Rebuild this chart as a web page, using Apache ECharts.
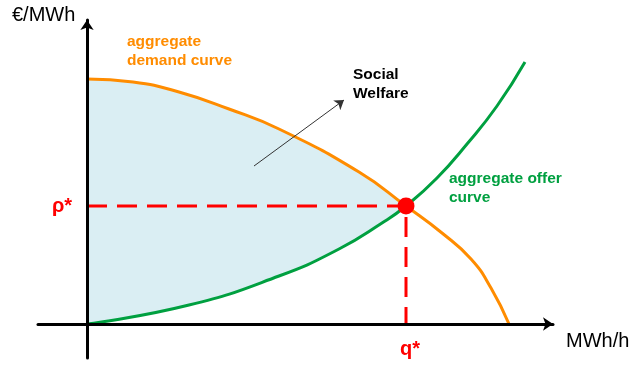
<!DOCTYPE html>
<html><head><meta charset="utf-8">
<script src="https://cdn.jsdelivr.net/npm/echarts@6/dist/echarts.min.js"></script>
<style>html,body{margin:0;padding:0;background:#fff}#c{width:632px;height:378px}</style>
</head><body><div id="c"></div>
<script>
// Data (x: quantity, y: price)
var demandCurve = [[0,245],[46,242],[92,232],[142,215],[192,195],[272,152],[319,118],[355,91],[384,65],[404,36],[422,0]];
var offerCurve = [[0,0],[102,19],[192,48],[252,75],[295,101],[319,118],[350,146],[380,180],[410,218],[438,262]];
var equilibrium = [319,118];
var qStar = equilibrium[0], pStar = equilibrium[1];
var welfareArrow = [[167,158],[257,224]];
var labels = {yAxis:'€/MWh', xAxis:'MWh/h', demand:'aggregate\ndemand curve', offer:'aggregate offer\ncurve', welfare:'Social\nWelfare', p:'ρ*', q:'q*'};

var ORANGE = '#FF8C00', GREEN = '#00A040', RED = '#FF0000', FILL = '#DAEEF3';
var demandFill = demandCurve.filter(function(p){return p[0] <= qStar;});
var offerFill = offerCurve.filter(function(p){return p[0] <= qStar;});

var chart = echarts.init(document.getElementById('c'));
var axisCommon = {
  type:'value', z:5,
  axisLine:{show:true, onZero:true, symbol:['none','arrow'], symbolSize:[10,10], lineStyle:{color:'#000', width:3}},
  axisTick:{show:false}, axisLabel:{show:false}, splitLine:{show:false}
};
var boldText = function(txt, x, y, color, size){
  return {type:'text', left:x, top:y, z:20, style:{text:txt, fill:color, font:'bold '+size+'px "Liberation Sans", Arial, sans-serif', lineHeight:19}};
};
var SM = 0.5;
chart.setOption({
  animation:false,
  grid:{left:38, right:79, top:20, bottom:20},
  xAxis: Object.assign({min:-49, max:466}, axisCommon),
  yAxis: Object.assign({min:-34, max:304}, axisCommon),
  series:[
    {type:'line', data:demandFill, smooth:SM, showSymbol:false, z:1, lineStyle:{width:0}, areaStyle:{color:FILL, opacity:1}},
    {type:'line', data:offerFill, smooth:SM, showSymbol:false, z:1, lineStyle:{width:0}, areaStyle:{color:'#fff', opacity:1}},
    {type:'line', data:demandCurve, smooth:SM, showSymbol:false, z:3, lineStyle:{color:ORANGE, width:3}},
    {type:'line', data:offerCurve, smooth:SM, showSymbol:false, z:3, lineStyle:{color:GREEN, width:3}},
    {type:'line', data:[[0,pStar],[qStar,pStar],[qStar,0]], showSymbol:false, z:4, lineStyle:{color:RED, width:3, type:[20,10]}},
    {type:'lines', coordinateSystem:'cartesian2d', z:6, symbol:['none','arrow'], symbolSize:9,
      lineStyle:{color:'#333', width:1, opacity:1}, data:[{coords:welfareArrow}]},
    {type:'scatter', data:[equilibrium], symbolSize:17, z:8, itemStyle:{color:RED, opacity:1}}
  ],
  graphic:[
    {type:'text', left:12, top:5, z:20, style:{text:labels.yAxis, fill:'#000', font:'20px "Liberation Sans", Arial, sans-serif'}},
    {type:'text', left:566, top:331, z:20, style:{text:labels.xAxis, fill:'#000', font:'20px "Liberation Sans", Arial, sans-serif'}},
    boldText(labels.demand, 127, 32, ORANGE, 15.5),
    boldText(labels.welfare, 353, 65, '#000', 15.5),
    boldText(labels.offer, 449, 169, GREEN, 15.5),
    {type:'text', left:52, top:196, z:20, style:{text:labels.p, fill:RED, font:'bold 20px "Liberation Sans", Arial, sans-serif'}},
    {type:'text', left:400, top:339, z:20, style:{text:labels.q, fill:RED, font:'bold 20px "Liberation Sans", Arial, sans-serif'}}
  ]
});
</script></body></html>
